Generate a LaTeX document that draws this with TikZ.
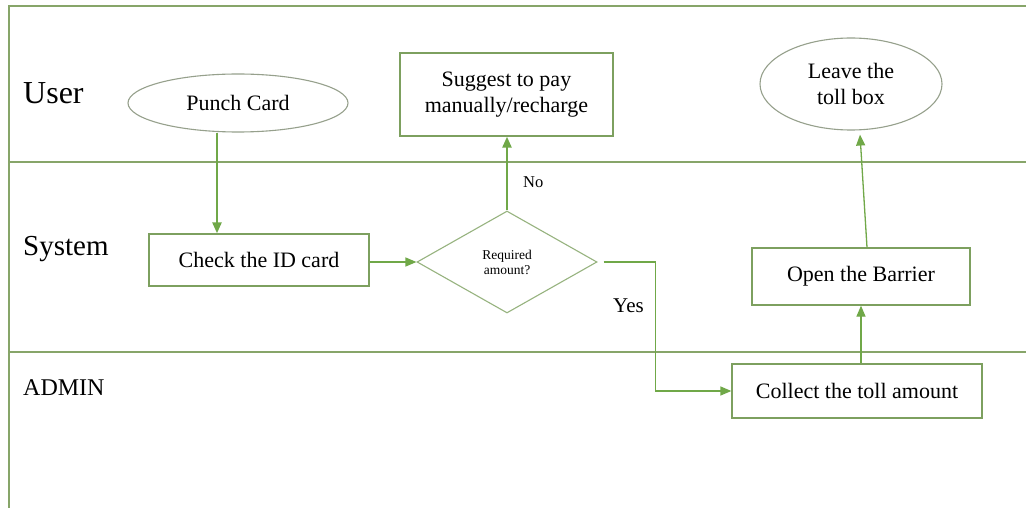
\documentclass[tikz,border=0pt]{standalone}
\usepackage{fontspec}
\setmainfont{Liberation Serif}
\usetikzlibrary{shapes.geometric,arrows.meta}
\definecolor{lanecol}{RGB}{135,165,105}
\definecolor{boxcol}{RGB}{125,160,95}
\definecolor{ellcol}{RGB}{150,160,140}
\definecolor{arrcol}{RGB}{112,168,72}
\tikzset{
  boxnode/.style={draw=boxcol, line width=1.3pt, rectangle, inner sep=0pt, align=center, font=\fontsize{22}{26}\selectfont},
  ellnode/.style={draw=ellcol, line width=1.1pt, ellipse, inner sep=0pt, align=center, font=\fontsize{22}{26}\selectfont},
  dianode/.style={draw=boxcol!80!white, line width=1.1pt, diamond, inner sep=0pt, align=center, font=\fontsize{13.5}{15}\selectfont},
  lane/.style={draw=lanecol, line width=1.3pt},
  lanelabel/.style={anchor=base west, inner sep=0pt},
  thickarrow/.style={draw=arrcol, line width=2.4pt, -{Triangle[length=11pt,width=9pt]}},
  thinarrow/.style={draw=arrcol, line width=1.3pt, -{Triangle[length=11pt,width=9pt]}},
  edgelabel/.style={anchor=base west, inner sep=0pt}
}
\begin{document}
\begin{tikzpicture}[x=1pt,y=-1pt]
\useasboundingbox[fill=white] (0,0) rectangle (1026,508);
% frame and lanes
\draw[lane] (1026,6) -- (9,6) -- (9,508);
\draw[lane] (9,162) -- (1026,162);
\draw[lane] (9,352) -- (1026,352);
% lane labels
\node[lanelabel, font=\fontsize{32}{36}\selectfont] (luser) at (23,104) {User};
\node[lanelabel, font=\fontsize{29}{33}\selectfont] (lsys) at (23,255) {System};
\node[lanelabel, font=\fontsize{24}{28}\selectfont] (ladmin) at (23,395) {ADMIN};
% nodes
\node[ellnode, minimum width=220pt, minimum height=58pt] (punch) at (238,103) {Punch Card};
\node[boxnode, minimum width=213pt, minimum height=83pt] (sug) at (506.5,94.5) {Suggest to pay\\manually/recharge};
\node[ellnode, minimum width=182pt, minimum height=92pt] (leave) at (851,84) {Leave the\\toll box};
\node[boxnode, minimum width=220pt, minimum height=52pt] (check) at (259,260) {Check the ID card};
\node[dianode, minimum width=180pt, minimum height=102pt] (dia) at (507,262) {Required\\amount?};
\node[boxnode, minimum width=218pt, minimum height=57pt] (open) at (861,276.5) {Open the Barrier};
\node[boxnode, minimum width=250pt, minimum height=54pt] (collect) at (857,391) {Collect the toll amount};
% connectors
\draw[thickarrow] ([xshift=-21pt]punch.south) -- ([xshift=-21pt]punch.south |- check.north);
\draw[thinarrow] (check.east |- dia.west) -- (dia.west);
\draw[thickarrow] (dia.north) -- (dia.north |- sug.south);
\draw[thinarrow] ([xshift=6pt]dia.east) -- ++(52,0) |- (collect.west);
\draw[thinarrow] (open.south |- collect.north) -- (open.south);
\draw[thinarrow] ([xshift=6pt]open.north) -- ([xshift=9pt,yshift=-4pt]leave.south);
% edge labels
\node[edgelabel, font=\fontsize{16.5}{19}\selectfont] (lno) at (523,187) {No};
\node[edgelabel, font=\fontsize{21}{24}\selectfont] (lyes) at (613,312) {Yes};
\end{tikzpicture}
\end{document}
